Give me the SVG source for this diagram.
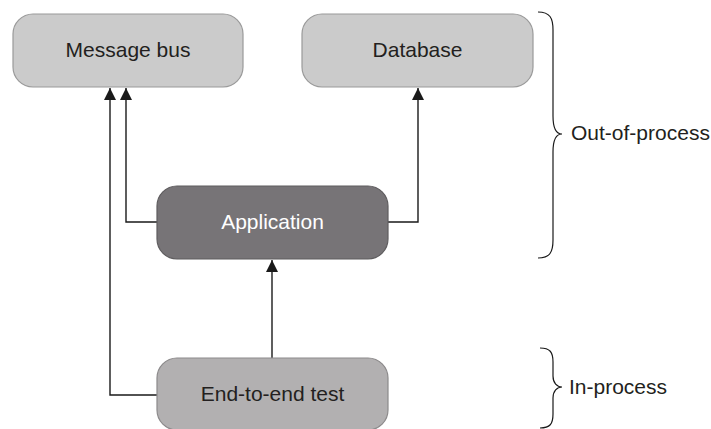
<svg xmlns="http://www.w3.org/2000/svg" width="711" height="429" viewBox="0 0 711 429">
<style>
.box{stroke-width:1.2}
.light{fill:#cbcbcb;stroke:#9a9a9a}
.dark{fill:#777477;stroke:#5f5d5f}
.mid{fill:#b2b0b1;stroke:#8c8a8b}
.lbl{font-family:"Liberation Sans",Arial,sans-serif;font-size:21px;fill:#231f20;text-anchor:middle}
.side{font-family:"Liberation Sans",Arial,sans-serif;font-size:21px;fill:#231f20}
.wlbl{fill:#ffffff}
.conn{fill:none;stroke:#1a1a1a;stroke-width:1.4}
.brace{fill:none;stroke:#1a1a1a;stroke-width:1.2}
</style>
<defs>
<marker id="ah" viewBox="0 0 10 10" refX="10" refY="5" markerWidth="12" markerHeight="12" markerUnits="userSpaceOnUse" orient="auto">
<path d="M0,0 L10,5 L0,10 z" fill="#1a1a1a"/>
</marker>
</defs>
<rect width="711" height="429" fill="#ffffff"/>
<g id="connectors">
<polyline class="conn" points="157,395 110,395 110,88" marker-end="url(#ah)"/>
<polyline class="conn" points="157,222 126,222 126,88" marker-end="url(#ah)"/>
<polyline class="conn" points="388,222 418,222 418,88" marker-end="url(#ah)"/>
<line class="conn" x1="272" y1="358" x2="272" y2="260" stroke-width="2" marker-end="url(#ah)"/>
</g>
<g id="message-bus">
<rect class="box light" x="13" y="14" width="230" height="73" rx="20"/>
<text class="lbl" x="128" y="57">Message bus</text>
</g>
<g id="database">
<rect class="box light" x="302" y="14" width="231" height="73" rx="20"/>
<text class="lbl" x="417.5" y="57">Database</text>
</g>
<g id="application">
<rect class="box dark" x="157" y="186" width="231" height="73" rx="20"/>
<text class="lbl wlbl" x="272.5" y="229">Application</text>
</g>
<g id="end-to-end-test">
<rect class="box mid" x="157" y="358" width="231" height="72" rx="20"/>
<text class="lbl" x="272.5" y="401">End-to-end test</text>
</g>
<g id="out-of-process">
<path class="brace" d="M538,12 C550,12 553,18 553,30 L553,116 C553,128 556,134 562,134 C556,134 553,140 553,152 L553,240 C553,252 550,258 538,258"/>
<text class="side" x="571" y="140">Out-of-process</text>
</g>
<g id="in-process">
<path class="brace" d="M540,348 C550,348 553,352 553,362 L553,376 C553,383 557,387 562,387 C557,387 553,391 553,398 L553,414 C553,424 550,428 540,428"/>
<text class="side" x="569" y="394">In-process</text>
</g>
</svg>
